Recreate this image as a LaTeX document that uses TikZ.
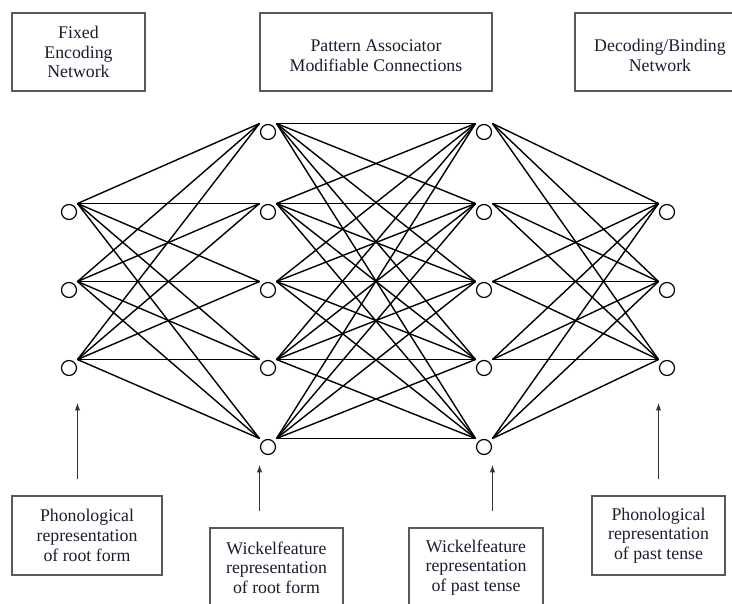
\documentclass[tikz,border=0pt]{standalone}
\usepackage{fontspec}
\setmainfont{Liberation Serif}
\usetikzlibrary{arrows.meta,calc}
\definecolor{inktext}{RGB}{28,28,46}
\begin{document}
\begin{tikzpicture}[x=1pt,y=-1pt,
    unit/.style={draw, circle, line width=1.2pt, minimum size=15pt, inner sep=0pt, outer sep=4.5pt},
    tagbox/.style={draw=black!65, line width=1.5pt, align=center, text=inktext, font=\fontsize{17.8}{19.6}\selectfont, inner sep=0pt},
    link/.style={line width=1.4pt},
    feed/.style={line width=1.5pt, draw=black!80, -{Latex[length=8pt,width=5.5pt]}}
]
\clip (0,0) rectangle (732,604);
\node[tagbox, minimum width=133pt, minimum height=78pt] (encbox) at (78.5,52) {Fixed\\Encoding\\Network};
\node[tagbox, minimum width=232pt, minimum height=78pt] (assocbox) at (376,52) {\mbox{}\\Pattern Associator\\Modifiable Connections};
\node[tagbox, minimum width=170pt, minimum height=78pt] (decbox) at (660,52) {\mbox{}\\Decoding/Binding\\Network};
\foreach \i/\y in {1/212,2/290,3/368} {
  \node[unit] (in\i) at (69,\y) {};
  \node[unit] (out\i) at (667,\y) {};
}
\foreach \i/\y in {1/132,2/212,3/290,4/368,5/447} {
  \node[unit] (wr\i) at (268,\y) {};
  \node[unit] (wp\i) at (484,\y) {};
}
\foreach \i in {1,2,3}
  \foreach \j in {1,...,5} {
    \draw[link] (in\i.north east) -- (wr\j.north west);
    \draw[link] (wp\j.north east) -- (out\i.north west);
  }
\foreach \i in {1,...,5}
  \foreach \j in {1,...,5}
    \draw[link] (wr\i.north east) -- (wp\j.north west);
\node[tagbox, minimum width=150pt, minimum height=79pt] (phonroot) at (87,535.5) {Phonological\\representation\\of root form};
\node[tagbox, minimum width=133pt, minimum height=79pt] (wickroot) at (276.5,567.5) {Wickelfeature\\representation\\of root form};
\node[tagbox, minimum width=134pt, minimum height=79pt] (wickpast) at (476,567.5) {Wickelfeature\\representation\\of past tense};
\node[tagbox, minimum width=133pt, minimum height=79pt] (phonpast) at (658.5,535.5) {Phonological\\representation\\of past tense};
\draw[feed] ($(phonroot.north -| in3.south east)+(0,-16)$) -- ($(in3.south east)+(0,26)$);
\draw[feed] ($(wickroot.north -| wr5.south west)+(0,-16)$) -- ($(wr5.south west)+(0,9)$);
\draw[feed] ($(wickpast.north -| wp5.south east)+(0,-16)$) -- ($(wp5.south east)+(0,9)$);
\draw[feed] ($(phonpast.north -| out3.south west)+(0,-16)$) -- ($(out3.south west)+(0,26)$);
\end{tikzpicture}
\end{document}
